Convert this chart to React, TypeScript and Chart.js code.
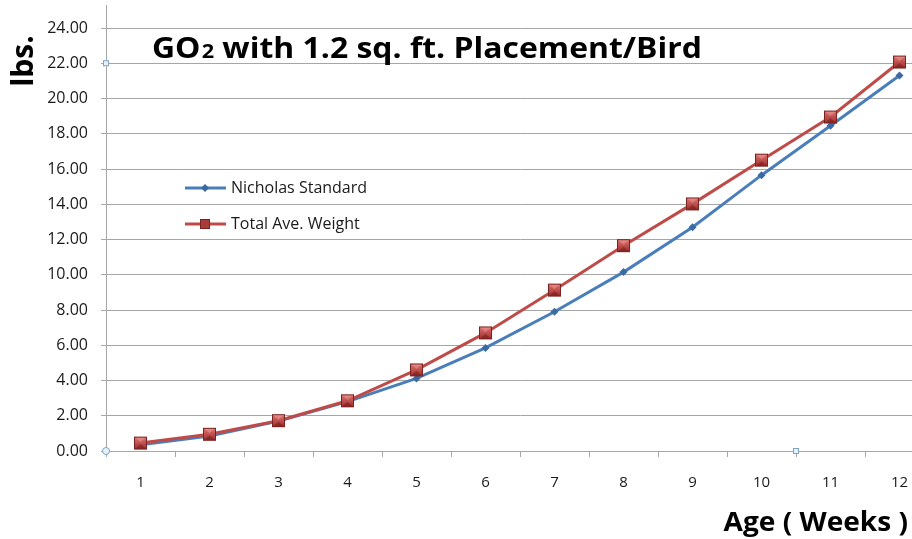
import { useEffect, useRef } from "react";
import { Chart, registerables } from "chart.js";

Chart.register(...registerables);

const weeks = ["1", "2", "3", "4", "5", "6", "7", "8", "9", "10", "11", "12"];
const nicholasStandard = [0.35, 0.85, 1.7, 2.8, 4.12, 5.85, 7.9, 10.15, 12.7, 15.65, 18.45, 21.3];
const totalAveWeight = [0.45, 0.95, 1.72, 2.85, 4.6, 6.7, 9.13, 11.65, 14.02, 16.5, 18.95, 22.07];
const seriesNames = ["Nicholas Standard", "Total Ave. Weight"];
const titleParts = ["GO", "2", " with 1.2 sq. ft. Placement/Bird"];
const xTitle = "Age ( Weeks )";
const yTitle = "lbs.";

const FONT = "'Open Sans', sans-serif";
const BLUE = "#4a7ebb";
const BLUE_DARK = "#3a69a3";
const RED = "#be4b48";
const GRID = "#a6a6a6";
const TEXT = "#1a1a1a";

function makeRedMarker(): HTMLCanvasElement {
  const s = 15;
  const c = document.createElement("canvas");
  c.width = s;
  c.height = s;
  const ctx = c.getContext("2d")!;
  const g = ctx.createLinearGradient(0, 0, 0, s);
  g.addColorStop(0, "#e07a76");
  g.addColorStop(0.5, "#c0504d");
  g.addColorStop(1, "#8e2a28");
  ctx.fillStyle = g;
  ctx.fillRect(1, 1, s - 2, s - 2);
  ctx.fillStyle = "rgba(120,25,25,0.55)";
  ctx.beginPath();
  ctx.moveTo(1, s - 1);
  ctx.lineTo(s / 2, s / 2 + 1);
  ctx.lineTo(s - 1, s - 1);
  ctx.closePath();
  ctx.fill();
  ctx.fillStyle = "rgba(255,190,185,0.35)";
  ctx.beginPath();
  ctx.moveTo(1, 1);
  ctx.lineTo(s / 2, s / 2 - 1);
  ctx.lineTo(s - 1, 1);
  ctx.closePath();
  ctx.fill();
  ctx.strokeStyle = "#7a2220";
  ctx.lineWidth = 1;
  ctx.strokeRect(1.5, 1.5, s - 3, s - 3);
  return c;
}

const decorPlugin = {
  id: "decor",
  afterDraw(chart: any) {
    const ctx = chart.ctx as CanvasRenderingContext2D;
    const area = chart.chartArea;
    const xs = chart.scales.x;
    const ys = chart.scales.y;
    ctx.save();

    // extend y axis line above plot
    ctx.strokeStyle = GRID;
    ctx.lineWidth = 1;
    ctx.beginPath();
    ctx.moveTo(area.left + 0.5, 5);
    ctx.lineTo(area.left + 0.5, area.top);
    ctx.stroke();

    // title (horizontally widened like the source)
    ctx.fillStyle = "#000";
    ctx.textBaseline = "alphabetic";
    ctx.textAlign = "left";
    ctx.save();
    ctx.translate(152, 58);
    ctx.scale(1.14, 1);
    let tx = 0;
    ctx.font = `bold 28px ${FONT}`;
    ctx.fillText(titleParts[0], tx, 0);
    tx += ctx.measureText(titleParts[0]).width;
    ctx.font = `bold 19px ${FONT}`;
    ctx.fillText(titleParts[1], tx + 1, 0);
    tx += ctx.measureText(titleParts[1]).width + 1;
    ctx.font = `bold 28px ${FONT}`;
    ctx.fillText(titleParts[2], tx, 0);
    ctx.restore();

    // x title
    ctx.save();
    ctx.translate(908, 531);
    ctx.scale(1.08, 1);
    ctx.textAlign = "right";
    ctx.font = `bold 26px ${FONT}`;
    ctx.fillText(xTitle, 0, 0);
    ctx.restore();

    // y title
    ctx.save();
    ctx.translate(33, 61);
    ctx.rotate(-Math.PI / 2);
    ctx.textAlign = "center";
    ctx.font = `bold 30px ${FONT}`;
    ctx.fillText(yTitle, 0, 0);
    ctx.restore();

    // legend
    const lx = 185;
    const rows = [
      { y: 188, color: BLUE, name: seriesNames[0], marker: "diamond" },
      { y: 224, color: RED, name: seriesNames[1], marker: "square" },
    ];
    rows.forEach((r) => {
      ctx.strokeStyle = r.color;
      ctx.lineWidth = 3;
      ctx.beginPath();
      ctx.moveTo(lx, r.y);
      ctx.lineTo(lx + 41, r.y);
      ctx.stroke();
      const cx = lx + 20;
      if (r.marker === "diamond") {
        ctx.fillStyle = BLUE_DARK;
        ctx.beginPath();
        ctx.moveTo(cx, r.y - 4);
        ctx.lineTo(cx + 4, r.y);
        ctx.lineTo(cx, r.y + 4);
        ctx.lineTo(cx - 4, r.y);
        ctx.closePath();
        ctx.fill();
      } else {
        ctx.fillStyle = "#a83c39";
        ctx.fillRect(cx - 5, r.y - 5, 10, 10);
        ctx.strokeStyle = "#7a2220";
        ctx.lineWidth = 1;
        ctx.strokeRect(cx - 4.5, r.y - 4.5, 9, 9);
      }
      ctx.fillStyle = TEXT;
      ctx.textAlign = "left";
      ctx.textBaseline = "middle";
      ctx.font = `16px ${FONT}`;
      ctx.fillText(r.name, lx + 46, r.y);
    });

    // selection handles (from the source picture)
    ctx.fillStyle = "#e8f2fa";
    ctx.strokeStyle = "#7fa3c8";
    ctx.lineWidth = 1;
    const hy = ys.getPixelForValue(22);
    ctx.fillRect(area.left - 3, hy - 3, 6, 6);
    ctx.strokeRect(area.left - 2.5, hy - 2.5, 5, 5);
    const hx = (xs.getPixelForValue(9) + xs.getPixelForValue(10)) / 2;
    ctx.fillRect(hx - 3, area.bottom - 3, 6, 6);
    ctx.strokeRect(hx - 2.5, area.bottom - 2.5, 5, 5);
    ctx.beginPath();
    ctx.arc(area.left, area.bottom, 3.5, 0, Math.PI * 2);
    ctx.fill();
    ctx.stroke();

    ctx.restore();
  },
};

export default function App() {
  const ref = useRef<HTMLCanvasElement | null>(null);

  useEffect(() => {
    if (!ref.current) return;
    const redMarker = makeRedMarker();
    const chart = new Chart(ref.current, {
      type: "line",
      data: {
        labels: weeks,
        datasets: [
          {
            label: seriesNames[0],
            data: nicholasStandard,
            borderColor: BLUE,
            backgroundColor: BLUE_DARK,
            borderWidth: 3,
            pointStyle: "rectRot",
            pointRadius: 4,
            pointBorderWidth: 0,
            pointBackgroundColor: BLUE_DARK,
            tension: 0,
            order: 2,
          },
          {
            label: seriesNames[1],
            data: totalAveWeight,
            borderColor: RED,
            backgroundColor: RED,
            borderWidth: 3,
            pointStyle: redMarker as any,
            pointRadius: 7,
            tension: 0,
            order: 1,
          },
        ],
      },
      options: {
        animation: false,
        responsive: false,
        maintainAspectRatio: false,
        layout: { padding: { top: 28, right: 16, left: 0, bottom: 0 } },
        plugins: {
          legend: { display: false },
          title: { display: false },
          tooltip: { enabled: false },
        },
        scales: {
          x: {
            type: "category",
            offset: true,
            grid: {
              offset: true,
              drawOnChartArea: false,
              drawTicks: true,
              tickLength: 6,
              color: GRID,
            },
            border: { color: GRID, width: 1 },
            ticks: {
              color: TEXT,
              font: { family: FONT, size: 15 },
              padding: 17,
              maxRotation: 0,
            },
            afterFit: (s: any) => {
              s.height = 88;
            },
          },
          y: {
            min: 0,
            max: 24,
            grid: { color: GRID, tickLength: 5, drawTicks: true },
            border: { color: GRID, width: 1 },
            ticks: {
              stepSize: 2,
              color: TEXT,
              font: { family: FONT, size: 16 },
              padding: 13,
              callback: (v: any) => Number(v).toFixed(2),
            },
            afterFit: (s: any) => {
              s.width = 106;
            },
          },
        },
      },
      plugins: [decorPlugin],
    });
    return () => chart.destroy();
  }, []);

  return (
    <div
      style={{
        position: "absolute",
        left: 0,
        top: 0,
        width: 912,
        height: 539,
        overflow: "hidden",
        background: "#fff",
      }}
    >
      <canvas ref={ref} width={950} height={539} style={{ width: 950, height: 539, display: "block" }} />
    </div>
  );
}
